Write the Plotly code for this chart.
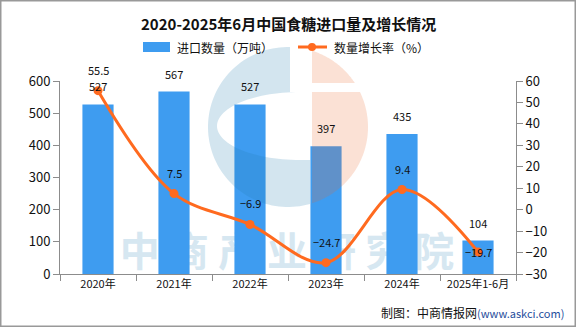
import numpy as np
import plotly.graph_objects as go

# Data
years = ["2020年", "2021年", "2022年", "2023年", "2024年", "2025年1-6月"]
import_volume = [527, 567, 527, 397, 435, 104]          # 万吨
growth_rate = [55.5, 7.5, -6.9, -24.7, 9.4, -19.7]      # %

BAR_COLOR = "#3e9cf0"
LINE_COLOR = "#ff6a1f"
FONT = "Noto Sans CJK SC"

W, H = 576, 327
L, R, T, B = 60, 516, 81, 274   # plot area in pixels


def fx(px):
    return (px - L) / (R - L)


def fy(py):
    return (B - py) / (B - T)


def path_from(points):
    pts = [f"{fx(x):.5f},{fy(y):.5f}" for x, y in points]
    return "M" + " L".join(pts) + " Z"


fig = go.Figure()

fig.add_trace(go.Bar(
    x=years, y=import_volume, name="进口数量（万吨）",
    marker=dict(color=BAR_COLOR, line=dict(width=0)),
    width=0.41, yaxis="y", showlegend=False,
))

fig.add_trace(go.Scatter(
    x=years, y=growth_rate, name="数量增长率（%）",
    mode="lines+markers", yaxis="y2",
    line=dict(color=LINE_COLOR, width=3, shape="spline", smoothing=1.0),
    marker=dict(color=LINE_COLOR, size=9),
    showlegend=False,
))

annotations = []
# value labels above bars
for cat, v in zip(years, import_volume):
    annotations.append(dict(
        x=cat, y=v, xref="x", yref="y", text=str(v), showarrow=False,
        yanchor="bottom", yshift=8, font=dict(family=FONT, size=11, color="#111"),
    ))
# value labels for the growth line; the last one sits on its point
for i, (cat, v) in enumerate(zip(years, growth_rate)):
    on_point = i == len(years) - 1
    annotations.append(dict(
        x=cat, y=v, xref="x", yref="y2", text=f"{v:g}".replace("-", "−"),
        showarrow=False,
        yanchor="middle" if on_point else "bottom",
        yshift=0 if on_point else 11,
        font=dict(family=FONT, size=11, color="#111"),
    ))

# title
annotations.append(dict(
    x=fx(288), y=fy(23), xref="paper", yref="paper", showarrow=False,
    text="<b>2020-2025年6月中国食糖进口量及增长情况</b>",
    font=dict(family=FONT, size=15, color="#111"), xanchor="center", yanchor="middle",
))
# legend texts
annotations.append(dict(
    x=fx(175), y=fy(47), xref="paper", yref="paper", showarrow=False,
    text="进口数量（万吨）", xanchor="left", yanchor="middle",
    font=dict(family=FONT, size=12, color="#111"),
))
annotations.append(dict(
    x=fx(332), y=fy(47), xref="paper", yref="paper", showarrow=False,
    text="数量增长率（%）", xanchor="left", yanchor="middle",
    font=dict(family=FONT, size=12, color="#111"),
))
# source credit
annotations.append(dict(
    x=fx(566), y=fy(312), xref="paper", yref="paper", showarrow=False,
    text="制图：中商情报网<span style='color:#1f4e9c;font-size:11px'>(www.askci.com)</span>",
    xanchor="right", yanchor="middle",
    font=dict(family=FONT, size=12, color="#111"),
))

shapes = []

# watermark text behind the bars
shapes.append(dict(
    type="rect", xref="paper", yref="paper",
    x0=fx(112), x1=fx(462), y0=fy(276), y1=fy(234),
    line=dict(width=0), fillcolor="rgba(0,0,0,0)", layer="below",
    label=dict(text="中 商 产 业 研 究 院", textposition="middle center",
               font=dict(family=FONT, size=40, color="#d6e7f1", weight="bold")),
))

# circular logo watermark
cx, cy, r = 288.0, 127.0, 80.0


def circle_pt(deg):
    a = np.radians(deg)
    return (cx + r * np.cos(a), cy - r * np.sin(a))


# blue "C"
ex, ey, erx, ery = 300.0, 126.0, 83.0, 34.0
t_top = np.degrees(np.arccos((290 - cx) / r))
t_bot = 360 - np.degrees(np.arccos((310 - cx) / r))
blue = [circle_pt(t) for t in np.linspace(t_top, t_bot, 80)]
blue.append((310, 160))
for phi in np.linspace(270, 90, 60):
    a = np.radians(phi)
    blue.append((ex + erx * np.cos(a), ey - ery * np.sin(a)))
blue.append((290, 92))
shapes.append(dict(type="path", xref="paper", yref="paper", path=path_from(blue),
                   fillcolor="rgba(35,125,175,0.2)", line=dict(width=0), layer="above"))

# orange right half, split by a white band
t_a = np.degrees(np.arcsin((cy - 92) / r))
t_b = -np.degrees(np.arccos((312 - cx) / r))
orange_low = [(312, 92)] + [circle_pt(t) for t in np.linspace(t_a, t_b, 60)]
shapes.append(dict(type="path", xref="paper", yref="paper", path=path_from(orange_low),
                   fillcolor="rgba(235,105,45,0.2)", line=dict(width=0), layer="above"))
t_c = np.degrees(np.arccos((312 - cx) / r))
t_d = np.degrees(np.arcsin((cy - 83) / r))
orange_top = [circle_pt(t) for t in np.linspace(t_c, t_d, 40)] + [(312, 83)]
shapes.append(dict(type="path", xref="paper", yref="paper", path=path_from(orange_top),
                   fillcolor="rgba(235,105,45,0.2)", line=dict(width=0), layer="above"))

# legend swatches
shapes.append(dict(type="rect", xref="paper", yref="paper",
                   x0=fx(143), x1=fx(170), y0=fy(52), y1=fy(42),
                   fillcolor=BAR_COLOR, line=dict(width=0)))
shapes.append(dict(type="line", xref="paper", yref="paper",
                   x0=fx(298), x1=fx(327), y0=fy(47), y1=fy(47),
                   line=dict(color=LINE_COLOR, width=3)))
shapes.append(dict(type="circle", xref="paper", yref="paper",
                   x0=fx(308), x1=fx(316), y0=fy(51), y1=fy(43),
                   fillcolor=LINE_COLOR, line=dict(width=0)))

# outer frame
shapes.append(dict(type="rect", xref="paper", yref="paper",
                   x0=fx(0.5), x1=fx(575.5), y0=fy(0.5), y1=fy(326.5),
                   line=dict(color="#999999", width=2), fillcolor="rgba(0,0,0,0)"))

axis_common = dict(
    showgrid=False, zeroline=False, showline=True, linecolor="#8c8c8c", linewidth=1,
    ticks="outside", ticklen=6, tickcolor="#8c8c8c",
    tickfont=dict(family=FONT, size=13, color="#111"),
)

fig.update_layout(
    width=W, height=H,
    margin=dict(l=L, r=W - R, t=T, b=H - B, pad=0),
    paper_bgcolor="white", plot_bgcolor="white",
    xaxis=dict(
        type="category", range=[-0.5, 5.5], showgrid=False, zeroline=False,
        showline=True, linecolor="#8c8c8c", ticks="outside", ticklen=6,
        tickcolor="#8c8c8c", tickson="boundaries",
        tickfont=dict(family=FONT, size=11, color="#111"),
    ),
    yaxis=dict(range=[0, 600], dtick=100, side="left", **axis_common),
    yaxis2=dict(range=[-30, 60], dtick=10, side="right", overlaying="y",
                **axis_common),
    annotations=annotations,
    shapes=shapes,
    showlegend=False,
)

fig.write_html("out.html")
